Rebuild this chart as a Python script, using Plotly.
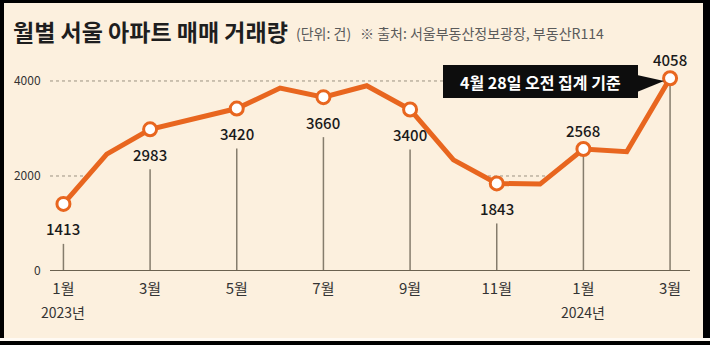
import plotly.graph_objects as go

# Monthly Seoul apartment sales (Jan 2023 - Mar 2024)
months = ["1월", "2월", "3월", "4월", "5월", "6월", "7월", "8월", "9월",
          "10월", "11월", "12월", "1월", "2월", "3월"]
sales = [1413, 2460, 2983, 3190, 3420, 3850, 3660, 3900, 3400,
         2340, 1843, 1830, 2568, 2510, 4058]
# which points carry a value label, and where it sits
labeled = [0, 2, 4, 6, 8, 10, 12, 14]
label_side = ["below", "below", "below", "below", "below", "below", "above", "above"]
tick_idx = [0, 2, 4, 6, 8, 10, 12, 14]
tick_text = ["1월", "3월", "5월", "7월", "9월", "11월", "1월", "3월"]
year_idx = [0, 12]
year_text = ["2023년", "2024년"]
y_ticks = [0, 2000, 4000]
y_tick_text = ["0", "2000", "4000"]
grid_vals = [2000, 4000]

title = "월별 서울 아파트 매매 거래량"
unit = "(단위: 건)"
source = "※ 출처: 서울부동산정보광장, 부동산R114"
callout = "4월 28일 오전 집계 기준"

W, H = 710, 345
L, R, T, B = 50, 20, 55, 74
PW, PH = W - L - R, H - T - B
X_MIN, X_MAX = -0.31, 14.46
Y_MIN, Y_MAX = 0, 4547

BG = "#FCF0DE"
ORANGE = "#E8661F"
STEM = "#857c6c"
BASE = "#6b6250"
KR = "Noto Sans CJK KR"
NUM = "Noto Sans CJK KR"


def px_x(p):
    return (p - L) / PW


def px_y(p):
    return (H - B - p) / PH


units_per_px = (Y_MAX - Y_MIN) / PH
stem_gap = 40 * units_per_px
last = len(sales) - 1

fig = go.Figure()

# dotted guide lines, running only as far as the last month
for g in grid_vals:
    fig.add_shape(type="line", xref="x", yref="y", x0=X_MIN, x1=last, y0=g, y1=g,
                  line=dict(color="#9c9282", width=1, dash="dot"), layer="below")

# background-coloured area under the curve hides the guides there
fig.add_trace(go.Scatter(x=list(range(len(sales))), y=sales, mode="lines",
                         line=dict(width=0), fill="tozeroy", fillcolor=BG,
                         hoverinfo="skip", showlegend=False))

# thin stems from each labelled value down to the baseline
sx, sy = [], []
for i, side in zip(labeled, label_side):
    top = sales[i] if side == "above" else sales[i] - stem_gap
    sx += [i, i, None]
    sy += [top, 0, None]
fig.add_trace(go.Scatter(x=sx, y=sy, mode="lines", line=dict(color=STEM, width=1.5),
                         hoverinfo="skip", showlegend=False))

# main line
fig.add_trace(go.Scatter(x=list(range(len(sales))), y=sales, mode="lines",
                         line=dict(color=ORANGE, width=5), showlegend=False))

# hollow markers on labelled months
fig.add_trace(go.Scatter(x=labeled, y=[sales[i] for i in labeled], mode="markers",
                         marker=dict(size=13, color="white",
                                     line=dict(color=ORANGE, width=3)),
                         showlegend=False, cliponaxis=False))

# small dots next to the y tick labels
fig.add_trace(go.Scatter(x=[X_MIN - 3 * (X_MAX - X_MIN) / PW] * len(y_ticks), y=y_ticks,
                         mode="markers", marker=dict(size=4, color="#222"),
                         showlegend=False, cliponaxis=False, hoverinfo="skip"))

# value labels
for i, side in zip(labeled, label_side):
    fig.add_annotation(x=i, y=sales[i], text=f"{sales[i]:d}", showarrow=False,
                       yshift=-25 if side == "below" else 19,
                       font=dict(family=NUM, size=15, color="#1a1a1a", weight=500))

# year captions under January ticks
for i, t in zip(year_idx, year_text):
    fig.add_annotation(x=i, xref="x", yref="paper", y=px_y(312), yanchor="middle",
                       text=t, showarrow=False,
                       font=dict(family=NUM, size=14, color="#333"))

# baseline
fig.add_shape(type="line", xref="x", yref="y", x0=X_MIN, x1=X_MAX, y0=0, y1=0,
              line=dict(color=BASE, width=2), layer="above")

# callout box with pointer toward the latest value
fig.add_shape(type="rect", xref="paper", yref="paper",
              x0=px_x(443), x1=px_x(638), y0=px_y(98), y1=px_y(65),
              fillcolor="#0d0d0d", line=dict(width=0), layer="above")
fig.add_shape(type="path", xref="paper", yref="paper",
              path=f"M {px_x(637)},{px_y(75)} L {px_x(664)},{px_y(81)} L {px_x(637)},{px_y(92)} Z",
              fillcolor="#0d0d0d", line=dict(width=0), layer="above")
fig.add_annotation(xref="paper", yref="paper", x=px_x(540), y=px_y(82),
                   xanchor="center", yanchor="middle", text=callout, showarrow=False,
                   font=dict(family=KR, size=16, color="white", weight="bold"))

# title and notes
fig.add_annotation(xref="paper", yref="paper", x=px_x(11), y=px_y(31),
                   xanchor="left", yanchor="middle", text=title, showarrow=False,
                   font=dict(family=KR, size=23, color="#1e1e1e", weight="bold"))
fig.add_annotation(xref="paper", yref="paper", x=px_x(294), y=px_y(33),
                   xanchor="left", yanchor="middle", text=unit, showarrow=False,
                   font=dict(family=KR, size=14, color="#5a5a5a"))
fig.add_annotation(xref="paper", yref="paper", x=px_x(358), y=px_y(33),
                   xanchor="left", yanchor="middle", text=source, showarrow=False,
                   font=dict(family=KR, size=14, color="#5a5a5a"))

# black frame with a pale strip along the bottom edge
frame = [(0, 0, W, 3), (0, 0, 4, H), (703, 0, W, H), (0, 338, W, 341), (0, 341, W, H)]
colors = ["#000", "#000", "#000", "#fffaf3", "#000"]
for (a, b, c, d), col in zip(frame, colors):
    fig.add_shape(type="rect", xref="paper", yref="paper",
                  x0=px_x(a), x1=px_x(c), y0=px_y(d), y1=px_y(b),
                  fillcolor=col, line=dict(width=0), layer="above")

fig.update_layout(
    width=W, height=H, margin=dict(l=L, r=R, t=T, b=B),
    paper_bgcolor=BG, plot_bgcolor=BG, showlegend=False,
    xaxis=dict(range=[X_MIN, X_MAX], tickvals=tick_idx, ticktext=tick_text,
               showgrid=False, zeroline=False, showline=False, ticks="outside",
               ticklen=4, tickcolor="rgba(0,0,0,0)",
               tickfont=dict(family=NUM, size=15, color="#333")),
    yaxis=dict(range=[Y_MIN, Y_MAX], tickvals=y_ticks, ticktext=y_tick_text,
               showgrid=False, zeroline=False, showline=False, ticks="outside",
               ticklen=6, tickcolor="rgba(0,0,0,0)",
               tickfont=dict(family=NUM, size=12, color="#333")),
)

fig.write_html("out.html")
